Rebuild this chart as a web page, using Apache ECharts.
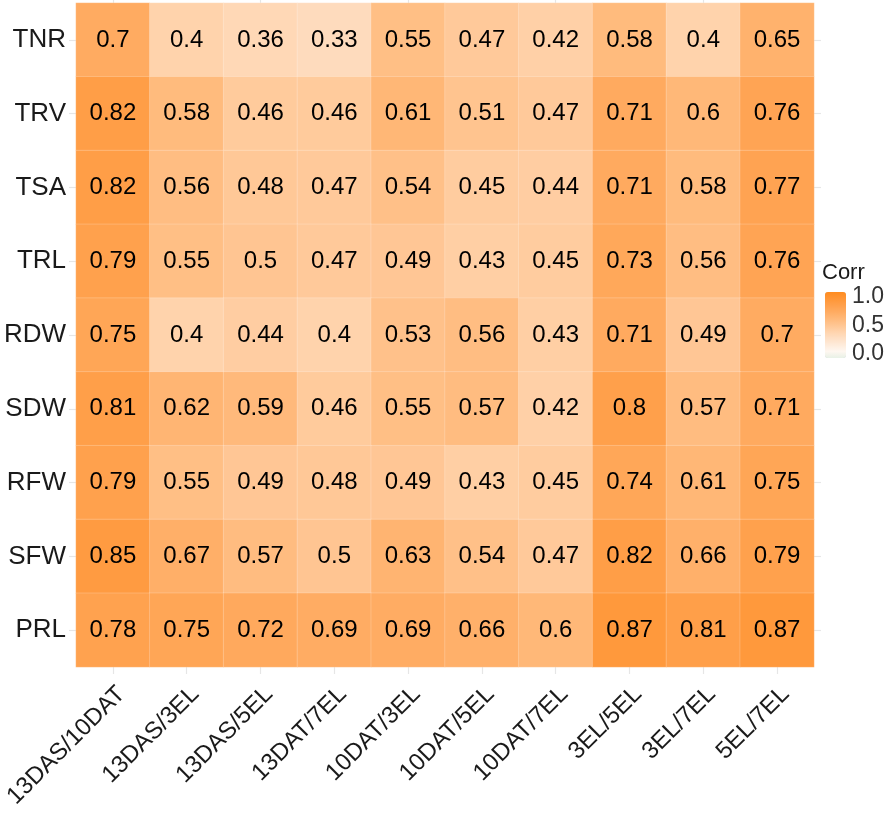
<!DOCTYPE html>
<html>
<head>
<meta charset="utf-8">
<script src="https://cdn.jsdelivr.net/npm/echarts@6/dist/echarts.min.js"></script>
<style>html,body{margin:0;padding:0;background:#fff}#c{width:889px;height:818px}</style>
</head>
<body>
<div id="c"></div>
<script>
const xCats = ['13DAS/10DAT','13DAS/3EL','13DAS/5EL','13DAT/7EL','10DAT/3EL','10DAT/5EL','10DAT/7EL','3EL/5EL','3EL/7EL','5EL/7EL'];
const yCats = ['TNR','TRV','TSA','TRL','RDW','SDW','RFW','SFW','PRL'];
const TNR = [0.7,0.4,0.36,0.33,0.55,0.47,0.42,0.58,0.4,0.65];
const TRV = [0.82,0.58,0.46,0.46,0.61,0.51,0.47,0.71,0.6,0.76];
const TSA = [0.82,0.56,0.48,0.47,0.54,0.45,0.44,0.71,0.58,0.77];
const TRL = [0.79,0.55,0.5,0.47,0.49,0.43,0.45,0.73,0.56,0.76];
const RDW = [0.75,0.4,0.44,0.4,0.53,0.56,0.43,0.71,0.49,0.7];
const SDW = [0.81,0.62,0.59,0.46,0.55,0.57,0.42,0.8,0.57,0.71];
const RFW = [0.79,0.55,0.49,0.48,0.49,0.43,0.45,0.74,0.61,0.75];
const SFW = [0.85,0.67,0.57,0.5,0.63,0.54,0.47,0.82,0.66,0.79];
const PRL = [0.78,0.75,0.72,0.69,0.69,0.66,0.6,0.87,0.81,0.87];
const legendTicks = ['1.0','0.5','0.0'];

const rows = [TNR,TRV,TSA,TRL,RDW,SDW,RFW,SFW,PRL];
const data = [];
rows.forEach((r, yi) => r.forEach((v, xi) => data.push([xi, yi, v])));

const font = 'Liberation Sans, Arial, sans-serif';
const chart = echarts.init(document.getElementById('c'));
const tickStyle = {show:true, length:7, lineStyle:{color:'#e6e6e6', width:1.2}};
chart.setOption({
  animation:false,
  grid:{left:76, right:75, top:3, bottom:151},
  xAxis:[{
    type:'category', data:xCats, position:'bottom',
    axisLine:{show:false}, axisTick:Object.assign({alignWithLabel:true}, tickStyle),
    axisLabel:{rotate:45, fontSize:24, color:'#1a1a1a', fontFamily:font, margin:15, interval:0, align:'right', verticalAlign:'top'},
    splitLine:{show:false}
  },{
    type:'category', data:xCats, position:'top',
    axisLine:{show:false}, axisTick:Object.assign({alignWithLabel:true}, tickStyle),
    axisLabel:{show:false}, splitLine:{show:false}
  }],
  yAxis:[{
    type:'category', data:yCats, inverse:true, position:'left',
    axisLine:{show:false}, axisTick:Object.assign({alignWithLabel:true}, tickStyle),
    axisLabel:{fontSize:26, color:'#1a1a1a', fontFamily:font, margin:10},
    splitLine:{show:false}
  },{
    type:'category', data:yCats, inverse:true, position:'right',
    axisLine:{show:false}, axisTick:Object.assign({alignWithLabel:true}, tickStyle),
    axisLabel:{show:false}, splitLine:{show:false}
  }],
  visualMap:{
    type:'continuous', min:0, max:1, calculable:false, show:true,
    orient:'vertical', left:825, top:292, itemWidth:21, itemHeight:66,
    padding:0, text:null, showLabel:false,
    inRange:{color:['#E8F1E6','#FEF7F0','#FEEBDA','#FEDFC4','#FFD3AC','#FFC592','#FFB878','#FFAB61','#FFA04B','#FF9636','#FF8C1F']}
  },
  graphic:[
    {type:'text', x:822, y:273, style:{text:'Corr', fontSize:22, fill:'#1a1a1a', fontFamily:font, textVerticalAlign:'middle'}},
    {type:'text', x:852, y:297, style:{text:legendTicks[0], fontSize:23, fill:'#333', fontFamily:font, textVerticalAlign:'middle'}},
    {type:'text', x:852, y:326, style:{text:legendTicks[1], fontSize:23, fill:'#333', fontFamily:font, textVerticalAlign:'middle'}},
    {type:'text', x:852, y:354, style:{text:legendTicks[2], fontSize:23, fill:'#333', fontFamily:font, textVerticalAlign:'middle'}},
    {type:'line', shape:{x1:825,y1:297,x2:829,y2:297}, style:{stroke:'#fff', lineWidth:1}},
    {type:'line', shape:{x1:842,y1:297,x2:846,y2:297}, style:{stroke:'#fff', lineWidth:1}},
    {type:'line', shape:{x1:825,y1:325,x2:829,y2:325}, style:{stroke:'#fff', lineWidth:1}},
    {type:'line', shape:{x1:842,y1:325,x2:846,y2:325}, style:{stroke:'#fff', lineWidth:1}},
    {type:'line', shape:{x1:825,y1:353,x2:829,y2:353}, style:{stroke:'#fff', lineWidth:1}},
    {type:'line', shape:{x1:842,y1:353,x2:846,y2:353}, style:{stroke:'#fff', lineWidth:1}}
  ],
  series:[{
    type:'heatmap', data:data,
    itemStyle:{borderColor:'rgba(255,255,255,0.2)', borderWidth:1},
    label:{show:true, fontSize:24, color:'#000', fontFamily:font, formatter:p=>String(p.value[2])},
    emphasis:{disabled:true}
  }]
});
</script>
</body>
</html>
